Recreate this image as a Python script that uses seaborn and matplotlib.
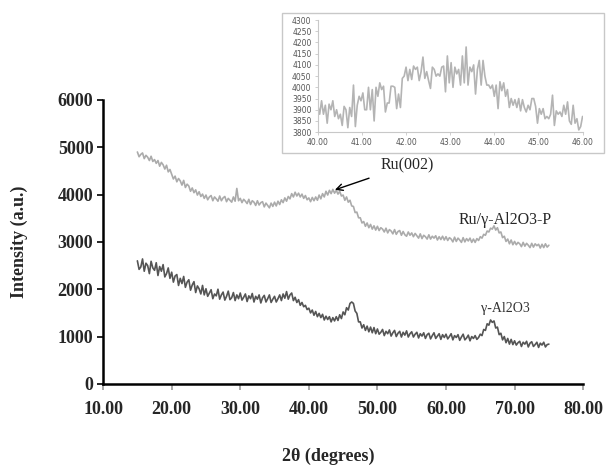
import numpy as np
import pandas as pd
import matplotlib
matplotlib.use("Agg")
import matplotlib.pyplot as plt
from matplotlib.patches import Rectangle
import seaborn as sns

# 2theta scan, 0.25 deg steps from 15 to 75
two_theta = np.arange(15, 75.001, 0.25)

# Ru/gamma-Al2O3-P (light grey trace)
ru_counts = [
    4900, 4800, 4850, 4880, 4760, 4830, 4790, 4720, 4810, 4700, 4740, 4660, 4720, 4600, 4680, 4630, 4540, 4620, 4480, 4530,
    4430, 4330, 4390, 4270, 4340, 4290, 4200, 4300, 4150, 4220, 4180, 4070, 4140, 4040, 4100, 3990, 4060, 3960, 4010, 3920,
    3990, 3890, 3950, 3980, 3870, 3950, 3910, 3860, 3970, 3870, 3930, 3960, 3850, 3920, 3880, 3840, 3950, 3860, 4130, 3870,
    3920, 3830, 3900, 3860, 3810, 3900, 3790, 3870, 3840, 3770, 3870, 3780, 3830, 3850, 3740, 3820, 3770, 3720, 3820, 3750,
    3840, 3760, 3860, 3790, 3890, 3830, 3930, 3860, 3960, 3910, 4020, 3950, 4050, 3970, 4030, 3950, 4010, 3920, 3980, 3890,
    3930, 3850, 3940, 3870, 3950, 3880, 3990, 3910, 4020, 3950, 4070, 3990, 4090, 4020, 4110, 4030, 4090, 4010, 4070, 3970,
    3990, 3880, 3950, 3840, 3880, 3760, 3750, 3620, 3630, 3510, 3510, 3400, 3430, 3330, 3400, 3300, 3370, 3270, 3340, 3250,
    3330, 3240, 3300, 3270, 3210, 3290, 3190, 3260, 3230, 3170, 3260, 3160, 3220, 3240, 3140, 3220, 3150, 3120, 3210, 3140,
    3190, 3110, 3180, 3130, 3080, 3170, 3070, 3140, 3110, 3060, 3150, 3060, 3120, 3080, 3130, 3040, 3110, 3050, 3120, 3040,
    3110, 3030, 3090, 3060, 3000, 3100, 3010, 3080, 3040, 2990, 3090, 3000, 3070, 3020, 3080, 2990, 3060, 2990, 3070, 3030,
    3110, 3080, 3160, 3140, 3230, 3210, 3290, 3270, 3340, 3250, 3300, 3190, 3210, 3090, 3120, 3010, 3060, 2960, 3040, 2940,
    3010, 2940, 2990, 2960, 2900, 2990, 2910, 2970, 2930, 2880, 2970, 2890, 2960, 2920, 2950, 2870, 2950, 2880, 2960, 2890,
    2930,
]

# gamma-Al2O3 support (dark grey trace)
al2o3_counts = [
    2600, 2420, 2470, 2640, 2380, 2550, 2500, 2330, 2590, 2450, 2400, 2560, 2290, 2480, 2380, 2520, 2260, 2330, 2450, 2230,
    2360, 2150, 2280, 2310, 2080, 2230, 2120, 2270, 2040, 2150, 2200, 1980, 2090, 2160, 1930, 2070, 2010, 1900, 2080, 1880,
    2010, 1850, 1920, 1990, 1800, 1900, 1860, 2000, 1790, 1880, 1940, 1770, 1850, 1960, 1780, 1820, 1930, 1760, 1880, 1800,
    1920, 1770, 1830, 1900, 1740, 1860, 1800, 1910, 1730, 1850, 1790, 1880, 1710, 1820, 1870, 1730, 1800, 1880, 1720, 1790,
    1850, 1730, 1800, 1880, 1760, 1900, 1810, 1950, 1790, 1880, 1920, 1760, 1830, 1720, 1780, 1660, 1720, 1630, 1660, 1570,
    1600, 1500, 1560, 1450, 1530, 1420, 1490, 1400, 1470, 1350, 1430, 1360, 1420, 1310, 1400, 1330, 1420, 1340, 1460, 1380,
    1520, 1460, 1610, 1560, 1700, 1730, 1700, 1540, 1490, 1310, 1310, 1180, 1250, 1130, 1220, 1100, 1200, 1080, 1190, 1060,
    1160, 1050, 1090, 1150, 1020, 1110, 1060, 1140, 1010, 1080, 1130, 1000, 1070, 1110, 990, 1090, 1030, 1120, 990, 1060,
    1100, 990, 1050, 1090, 970, 1060, 1010, 1080, 960, 1040, 1070, 950, 1020, 1080, 960, 1010, 1060, 940, 1040, 980,
    1050, 950, 1000, 1060, 930, 1020, 980, 1040, 920, 990, 1050, 930, 970, 1030, 910, 1000, 960, 1020, 940, 980,
    1050, 1020, 1150, 1130, 1270, 1240, 1350, 1300, 1330, 1180, 1200, 1040, 1070, 930, 1000, 870, 960, 840, 940, 830,
    910, 820, 870, 900, 790, 880, 840, 900, 780, 860, 890, 790, 830, 880, 770, 860, 820, 880, 780, 830,
    840,
]

# zoomed scan of the Ru(002) region, 40-46 deg
inset_counts = [
    3920, 3880, 3940, 3880, 3920, 3840, 3925, 3900, 3940, 3870, 3900, 3860, 3880, 3830, 3915, 3900,
    3820, 3910, 3870, 4010, 3825, 3920, 3960, 3940, 3975, 3900, 3900, 4000, 3900, 3990, 3850, 4000,
    3960, 4020, 3990, 4005, 3890, 3930, 3930, 4005, 4005, 4000, 3905, 3970, 3910, 4040, 4050, 4090,
    4030, 4080, 4035, 4095, 4080, 4090, 4030, 4070, 4135, 4040, 4070, 4030, 3995, 4090, 4080, 4050,
    4060, 4050, 4090, 4095, 3980, 4140, 4020, 4110, 4000, 4090, 4060, 4080, 4010, 4140, 4020, 4180,
    4010, 4090, 4070, 4100, 3970, 4080, 4120, 4010, 4120, 4050, 4010, 4010, 3995, 4010, 3960, 4010,
    3905, 4025, 3985, 4020, 3960, 3990, 3910, 3950, 3920, 3945, 3910, 3950, 3895, 3945, 3910, 3890,
    3920, 3900, 3950, 3950, 3915, 3840, 3905, 3880, 3905, 3860, 3870, 3860, 3880, 3965, 3830, 3895,
    3880, 3890, 3870, 3920, 3880, 3935, 3850, 3835, 3920, 3840, 3860, 3810, 3825, 3870,
]
inset_theta = np.linspace(40, 46, len(inset_counts))

main_df = pd.DataFrame({"theta": two_theta, "ru": ru_counts, "al": al2o3_counts})
inset_df = pd.DataFrame({"theta": inset_theta, "counts": inset_counts})

sns.set_theme(style="white")
plt.rcParams["font.family"] = ["Liberation Serif", "DejaVu Serif"]

fig = plt.figure(figsize=(6.1, 4.67), dpi=100)
ax = fig.add_axes([0.169, 0.178, 0.787, 0.608])

sns.lineplot(data=main_df, x="theta", y="ru", ax=ax, color="#ababab", linewidth=1.2, estimator=None)
sns.lineplot(data=main_df, x="theta", y="al", ax=ax, color="#555555", linewidth=1.2, estimator=None)

ax.set_xlim(10, 80)
ax.set_ylim(0, 6000)
ax.set_xticks(np.arange(10, 81, 10))
ax.set_xticklabels([f"{v:.2f}" for v in np.arange(10, 81, 10)])
ax.set_yticks(np.arange(0, 6001, 1000))
for lab in ax.get_xticklabels() + ax.get_yticklabels():
    lab.set_fontweight("bold")
    lab.set_fontsize(13)
ax.tick_params(axis="both", which="major", length=4, width=1.2, color="black", direction="out",
               bottom=True, left=True, pad=3)
ax.tick_params(axis="x", pad=8, color="#999999")

for side in ["top", "right"]:
    ax.spines[side].set_visible(False)
for side in ["left", "bottom"]:
    ax.spines[side].set_color("black")
    ax.spines[side].set_linewidth(1.8)

ax.set_xlabel("2θ (degrees)", fontsize=13, fontweight="bold")
ax.set_ylabel("Intensity (a.u.)", fontsize=13, fontweight="bold")
ax.xaxis.set_label_coords(0.47, -0.225)
ax.yaxis.set_label_coords(-0.156, 0.5)

ax.annotate("Ru(002)", xy=(43.8, 4100), xytext=(54.3, 4620), fontsize=11.5,
            ha="center", va="center",
            arrowprops=dict(arrowstyle="->", color="black", lw=1.0, shrinkA=6, shrinkB=0))
ax.text(68.6, 3465, "Ru/γ-Al2O3-P", fontsize=11.5, ha="center", va="center", clip_on=False)
ax.text(68.6, 1600, "γ-Al2O3", fontsize=10, ha="center", va="center", color="#333333")

# inset frame and axes
fig.patches.append(Rectangle((0.462, 0.672), 0.528, 0.300, transform=fig.transFigure,
                             fill=False, edgecolor="#c8c8c8", linewidth=1.0))
axin = fig.add_axes([0.521, 0.717, 0.434, 0.240])
sns.lineplot(data=inset_df, x="theta", y="counts", ax=axin, color="#b4b4b4", linewidth=1.2, estimator=None)
axin.set_xlim(40, 46)
axin.set_ylim(3800, 4300)
axin.set_xticks(np.arange(40, 46.1, 1))
axin.set_xticklabels([f"{v:.2f}" for v in np.arange(40, 46.1, 1)])
axin.set_yticks(np.arange(3800, 4301, 50))
axin.set_xlabel("")
axin.set_ylabel("")
axin.tick_params(axis="both", labelsize=5.5, colors="#555555", length=2.5, width=0.6, direction="out",
                 bottom=True, left=True, pad=2)
axin.tick_params(axis="both", color="#c8c8c8")
for lab in axin.get_xticklabels() + axin.get_yticklabels():
    lab.set_fontfamily(["DejaVu Sans"])
for side in ["top", "right"]:
    axin.spines[side].set_visible(False)
for side in ["left", "bottom"]:
    axin.spines[side].set_color("#c8c8c8")
    axin.spines[side].set_linewidth(0.8)
axin.patch.set_alpha(0)

fig.savefig("out.png", dpi=100)
